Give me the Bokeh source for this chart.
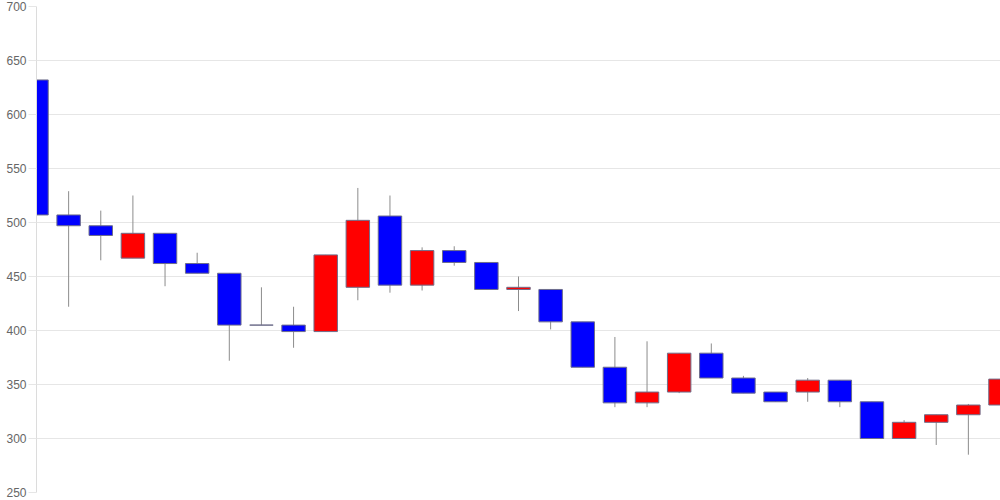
from bokeh.plotting import figure
from bokeh.models import ColumnDataSource, Range1d, FixedTicker
from bokeh.embed import file_html
from bokeh.resources import INLINE

opens  = [632, 507, 497, 467, 490, 462, 453, 405, 405, 399, 440, 506, 442, 474, 463, 438,
          438, 408, 366, 333, 343, 379, 356, 343, 343, 354, 334, 300, 315, 322, 331]
highs  = [637, 529, 511, 525, 490, 472, 453, 440, 422, 470, 532, 525, 477, 478, 463, 450,
          438, 408, 394, 390, 379, 388, 358, 343, 356, 354, 334, 317, 322, 332, 374]
lows   = [502, 422, 465, 467, 441, 453, 372, 405, 384, 399, 428, 435, 437, 460, 438, 418,
          401, 366, 329, 329, 342, 356, 342, 334, 334, 329, 300, 300, 294, 285, 329]
closes = [507, 497, 488, 490, 462, 453, 405, 405, 399, 470, 502, 442, 474, 463, 438, 440,
          408, 366, 333, 343, 379, 356, 342, 334, 354, 334, 300, 315, 322, 331, 355]
y_ticks = [250, 300, 350, 400, 450, 500, 550, 600, 650, 700]

xs = list(range(len(opens)))
tops = [max(o, c) for o, c in zip(opens, closes)]
bottoms = [min(o, c) for o, c in zip(opens, closes)]
colors = ["#ff0000" if c > o else "#0000ff" for o, c in zip(opens, closes)]

src = ColumnDataSource(dict(x=xs, high=highs, low=lows, top=tops, bottom=bottoms, color=colors))

p = figure(width=1000, height=500, output_backend="svg", toolbar_location=None,
           x_range=Range1d(0, len(opens) - 1), y_range=Range1d(250, 700),
           min_border_left=36, min_border_right=0, min_border_top=6, min_border_bottom=8)
p.outline_line_color = None
p.background_fill_color = "white"
p.border_fill_color = "white"

p.segment(x0="x", y0="low", x1="x", y1="high", source=src, line_color="#8c8c8c", line_width=1)
p.vbar(x="x", top="top", bottom="bottom", width=0.73, source=src,
       fill_color="color", line_color="#6e6e8a", line_width=1)

p.xaxis.visible = False
p.xgrid.visible = False

p.yaxis.ticker = FixedTicker(ticks=y_ticks)
p.yaxis.axis_line_color = "#dcdcdc"
p.yaxis.major_tick_line_color = "#e6e6e6"
p.yaxis.major_tick_out = 8
p.yaxis.major_tick_in = 0
p.yaxis.minor_tick_line_color = None
p.yaxis.major_label_text_color = "#666666"
p.yaxis.major_label_text_font = "Liberation Sans"
p.yaxis.major_label_text_font_size = "12px"
p.yaxis.major_label_standoff = 2
p.ygrid.grid_line_color = "#e6e6e6"
p.ygrid.grid_line_width = 1

open("out.html", "w").write(file_html(p, INLINE))
